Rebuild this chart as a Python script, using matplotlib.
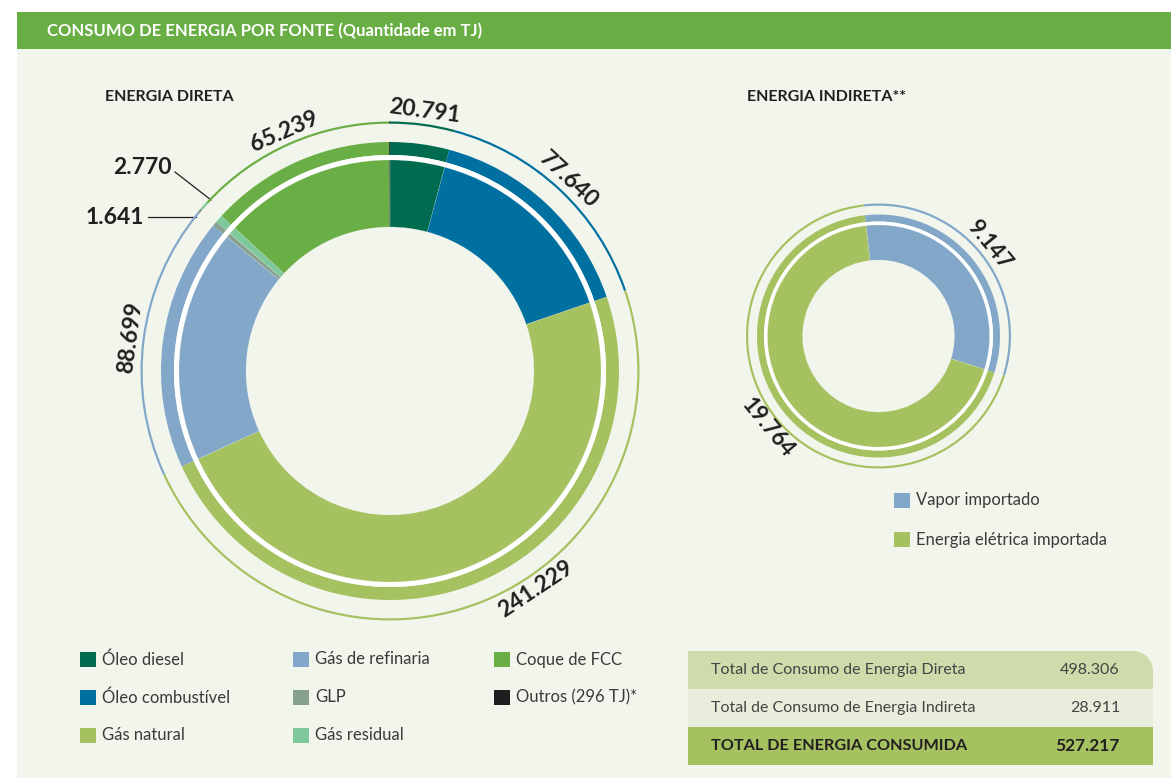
import matplotlib
matplotlib.use("Agg")
import matplotlib.pyplot as plt
import matplotlib.patches as mpatches
import numpy as np

# --- data (TJ) -------------------------------------------------------------
direta_labels = ["Óleo diesel", "Óleo combustível", "Gás natural",
                 "Gás de refinaria", "GLP", "Gás residual",
                 "Coque de FCC", "Outros (296 TJ)*"]
direta_values = [20791, 77640, 241229, 88699, 1641, 2770, 65239, 296]
direta_text = ["20.791", "77.640", "241.229", "88.699", "1.641", "2.770", "65.239", ""]

indireta_labels = ["Vapor importado", "Energia elétrica importada"]
indireta_values = [9147, 19764]
indireta_text = ["9.147", "19.764"]

table_rows = ["Total de Consumo de Energia Direta",
              "Total de Consumo de Energia Indireta",
              "TOTAL DE ENERGIA CONSUMIDA"]
table_values = ["498.306", "28.911", "527.217"]

# --- styling ---------------------------------------------------------------
direta_colors = ["#006b4f", "#0070a1", "#a5c160", "#82a7c9",
                 "#88a090", "#7fc89b", "#6aae46", "#1e1e1e"]
indireta_colors = ["#82a7c9", "#a5c160"]
BG = "#f2f5ec"
HEADER = "#69ae45"
TXT = "#231f20"

NARROW = ["DejaVu Sans Condensed", "Liberation Sans Narrow", "Lato"]
NUMFONT = ["Lato", "DejaVu Sans"]

W, H = 1171, 778
fig = plt.figure(figsize=(W / 100, H / 100), dpi=100)
fig.patch.set_facecolor("white")

# background axes in pixel coordinates
bg = fig.add_axes([0, 0, 1, 1], zorder=0)
bg.set_xlim(0, W)
bg.set_ylim(H, 0)
bg.axis("off")

bg.add_patch(mpatches.Rectangle((17, 49), W - 17, H - 49, color=BG, lw=0))
bg.add_patch(mpatches.Rectangle((17, 12), W - 17, 37, color=HEADER, lw=0))
bg.text(47, 31, "CONSUMO DE ENERGIA POR FONTE (Quantidade em TJ)", color="white",
        fontsize=12, fontweight="bold", family=NARROW, va="center", ha="left")

bg.text(105, 97, "ENERGIA DIRETA", color=TXT, fontsize=11.5, fontweight="bold",
        family=NARROW, va="center", ha="left")
bg.text(747, 97, "ENERGIA INDIRETA**", color=TXT, fontsize=11.5, fontweight="bold",
        family=NARROW, va="center", ha="left")


def donut_axes(cx, cy, half):
    ax = fig.add_axes([(cx - half) / W, (H - cy - half) / H, 2 * half / W, 2 * half / H],
                      zorder=1)
    return ax


def draw_donut(ax, values, colors, start, r_line, r_outer, w_outer, r_inner, w_inner, half):
    kw = dict(startangle=start, counterclock=False, colors=colors)
    # thin outer line
    ax.pie(values, radius=r_line, wedgeprops=dict(width=2.2, linewidth=0), **kw)
    # thick outer ring
    ax.pie(values, radius=r_outer, wedgeprops=dict(width=w_outer, linewidth=0), **kw)
    # white separator
    ax.add_patch(mpatches.Wedge((0, 0), r_outer - w_outer, 0, 360,
                                width=r_outer - w_outer - r_inner, color="white", lw=0))
    # main ring
    ax.pie(values, radius=r_inner, wedgeprops=dict(width=w_inner, linewidth=0.4,
                                                     edgecolor="#ffffff40"), **kw)
    ax.set_xlim(-half, half)
    ax.set_ylim(-half, half)
    ax.set_aspect("equal")
    ax.axis("off")


def mid_angles(values, start_cw):
    # clockwise-from-top angle of each slice centre
    tot = float(sum(values))
    edges = start_cw + np.concatenate([[0], np.cumsum(values)]) / tot * 360
    return (edges[:-1] + edges[1:]) / 2


def arc_label(ax, text, theta, r, size=16.5):
    t = np.radians(theta)
    x, y = r * np.sin(t), r * np.cos(t)
    th = theta % 360
    rot = 180 - th if 90 < th < 270 else -th
    ax.text(x, y, text, rotation=rot, rotation_mode="anchor", ha="center", va="center",
            fontsize=size, fontweight="bold", family=NUMFONT, color=TXT)


# --- ENERGIA DIRETA --------------------------------------------------------
half_l = 300
axl = donut_axes(390, 371, half_l)
draw_donut(axl, direta_values, direta_colors, 90, 249.5, 229, 13, 211, 67, half_l)
mids = mid_angles(direta_values, 0)
label_shift = {2: -12}
for i, txt in enumerate(direta_text):
    if txt and i not in (4, 5):
        arc_label(axl, txt, mids[i] + label_shift.get(i, 0), 262)

# small slices get leader lines
bg.plot([175, 211], [172, 200], color=TXT, lw=0.9)
bg.text(172, 167, direta_text[5], ha="right", va="center", fontsize=16.5,
        fontweight="bold", family=NUMFONT, color=TXT)
bg.plot([148, 196], [217, 217], color=TXT, lw=0.9)
bg.text(144, 217, direta_text[4], ha="right", va="center", fontsize=16.5,
        fontweight="bold", family=NUMFONT, color=TXT)

# --- ENERGIA INDIRETA ------------------------------------------------------
half_r = 160
axr = donut_axes(878.5, 336, half_r)
vapor_mid = 50.5
start_cw = vapor_mid - indireta_values[0] / sum(indireta_values) * 180
draw_donut(axr, indireta_values, indireta_colors, 90 - start_cw,
           132.5, 121.5, 7, 111, 35, half_r)
mids_r = mid_angles(indireta_values, start_cw)
for i, txt in enumerate(indireta_text):
    arc_label(axr, txt, mids_r[i], 144, size=16)

# --- legends ---------------------------------------------------------------
col_x = [80, 293, 494]
row_y = [659.5, 697.5, 735.5]
for i, (lab, col) in enumerate(zip(direta_labels, direta_colors)):
    x, y = col_x[i // 3], row_y[i % 3]
    bg.add_patch(mpatches.Rectangle((x, y - 7.5), 16, 15, color=col, lw=0))
    bg.text(x + 22, y, lab, ha="left", va="center", fontsize=12, family=NARROW,
            color="#3a3a3a")

for i, (lab, col) in enumerate(zip(indireta_labels, indireta_colors)):
    y = [500, 539.5][i]
    bg.add_patch(mpatches.Rectangle((894, y - 7.5), 16, 15, color=col, lw=0))
    bg.text(916, y, lab, ha="left", va="center", fontsize=12, family=NARROW,
            color="#3a3a3a")

# --- totals table ----------------------------------------------------------
row_colors = ["#cfdbab", "#e9eddb", "#a5c160"]
tx0, tx1 = 688, 1153
ty = [651, 689, 727, 765]
for i in range(3):
    if i == 0:
        # first row has a rounded top-right corner
        bg.add_patch(mpatches.Rectangle((tx0, ty[0] + 20), tx1 - tx0, 18,
                                        color=row_colors[0], lw=0))
        bg.add_patch(mpatches.Rectangle((tx0, ty[0]), tx1 - tx0 - 20, 38,
                                        color=row_colors[0], lw=0))
        bg.add_patch(mpatches.Wedge((tx1 - 20, ty[0] + 20), 20, 0, 360,
                                    color=row_colors[0], lw=0))
    else:
        bg.add_patch(mpatches.Rectangle((tx0, ty[i]), tx1 - tx0, 38,
                                        color=row_colors[i], lw=0))
    bold = i == 2
    yc = (ty[i] + ty[i + 1]) / 2
    bg.text(711, yc, table_rows[i], ha="left", va="center",
            fontsize=11.7 if bold else 11.5, family=NARROW if bold else NUMFONT,
            fontweight="bold" if bold else "normal",
            color=TXT if bold else "#444444")
    bg.text(1120, yc, table_values[i], ha="right", va="center",
            fontsize=12.5 if bold else 11.5, family=NUMFONT,
            fontweight="bold" if bold else "normal",
            color=TXT if bold else "#444444")

fig.savefig("out.png", dpi=100, facecolor=fig.get_facecolor())
